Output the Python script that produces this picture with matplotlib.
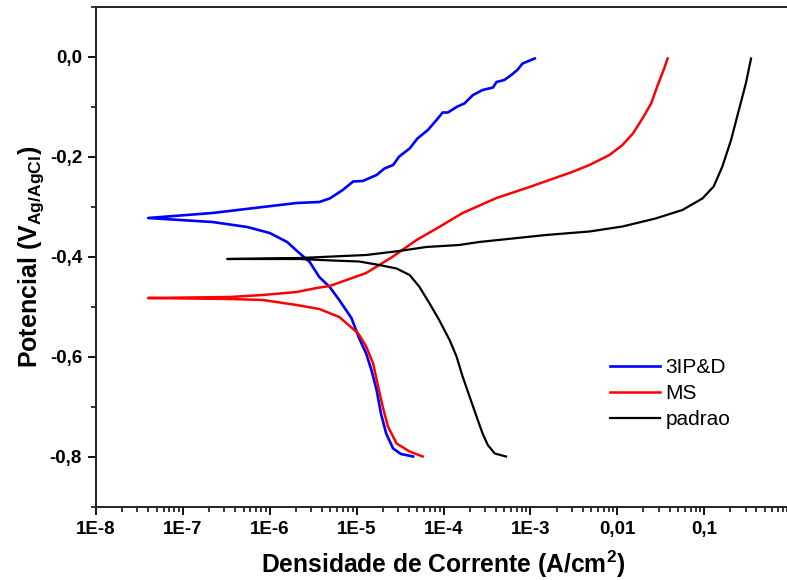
import matplotlib
matplotlib.use("Agg")
import matplotlib.pyplot as plt
from matplotlib.ticker import FixedLocator, LogLocator, NullFormatter, MultipleLocator
import numpy as np

plt.rcParams["font.family"] = ["Liberation Sans", "DejaVu Sans"]

# log10 of current density (A/cm2) and potential (V vs Ag/AgCl)
blue_an_logi = [-7.40, -6.66, -6.08, -5.69, -5.43, -5.31, -5.16, -5.04, -4.93, -4.77,
                -4.68, -4.58, -4.51, -4.39, -4.30, -4.18, -4.08, -4.01, -3.95, -3.84,
                -3.76, -3.66, -3.55, -3.43, -3.39, -3.30, -3.22, -3.15, -3.09, -2.95]
blue_an_e = [-0.322, -0.312, -0.300, -0.292, -0.290, -0.283, -0.266, -0.249, -0.248, -0.236,
             -0.223, -0.216, -0.199, -0.183, -0.163, -0.146, -0.126, -0.111, -0.111, -0.099,
             -0.093, -0.076, -0.066, -0.061, -0.050, -0.046, -0.036, -0.026, -0.013, -0.003]
blue_ca_logi = [-7.40, -6.66, -6.26, -6.00, -5.80, -5.66, -5.54, -5.43, -5.31, -5.20,
                -5.06, -4.97, -4.89, -4.83, -4.77, -4.72, -4.66, -4.58, -4.49, -4.35]
blue_ca_e = [-0.322, -0.330, -0.340, -0.352, -0.370, -0.392, -0.410, -0.440, -0.460, -0.486,
             -0.522, -0.563, -0.593, -0.626, -0.666, -0.713, -0.753, -0.783, -0.794, -0.799]

red_an_logi = [-7.40, -6.46, -6.08, -5.69, -5.46, -5.31, -4.89, -4.59, -4.31, -4.05,
               -3.78, -3.39, -3.01, -2.52, -2.32, -2.09, -1.94, -1.82, -1.71, -1.61,
               -1.54, -1.46, -1.42]
red_an_e = [-0.482, -0.480, -0.476, -0.470, -0.462, -0.458, -0.432, -0.400, -0.366, -0.340,
            -0.312, -0.282, -0.260, -0.230, -0.216, -0.196, -0.176, -0.153, -0.123, -0.093,
            -0.059, -0.023, -0.003]
red_ca_logi = [-7.40, -6.46, -6.08, -5.69, -5.43, -5.20, -5.00, -4.97, -4.89, -4.81,
               -4.76, -4.70, -4.64, -4.54, -4.39, -4.24]
red_ca_e = [-0.482, -0.484, -0.486, -0.496, -0.504, -0.520, -0.550, -0.556, -0.579, -0.613,
            -0.653, -0.699, -0.739, -0.773, -0.789, -0.799]

black_an_logi = [-6.49, -5.66, -4.89, -4.51, -4.20, -3.82, -3.59, -2.82, -2.32, -1.94,
                 -1.56, -1.25, -1.02, -0.89, -0.79, -0.69, -0.60, -0.52, -0.46]
black_an_e = [-0.404, -0.402, -0.396, -0.388, -0.380, -0.376, -0.370, -0.356, -0.349, -0.339,
              -0.323, -0.306, -0.283, -0.259, -0.219, -0.166, -0.106, -0.053, -0.003]
black_ca_logi = [-6.49, -5.66, -5.28, -4.97, -4.74, -4.54, -4.39, -4.28, -4.16, -4.05,
                 -3.93, -3.85, -3.78, -3.70, -3.62, -3.55, -3.49, -3.41, -3.28]
black_ca_e = [-0.404, -0.404, -0.407, -0.409, -0.416, -0.423, -0.436, -0.459, -0.493, -0.526,
              -0.566, -0.599, -0.639, -0.679, -0.719, -0.753, -0.776, -0.793, -0.799]

x_ticks = [1e-8, 1e-7, 1e-6, 1e-5, 1e-4, 1e-3, 1e-2, 1e-1, 1]
x_ticklabels = ["1E-8", "1E-7", "1E-6", "1E-5", "1E-4", "1E-3", "0,01", "0,1", "1"]
y_ticks = [0.0, -0.2, -0.4, -0.6, -0.8]
y_ticklabels = ["0,0", "-0,2", "-0,4", "-0,6", "-0,8"]

series = [
    ("3IP&D", "#0000FF", 1.9, blue_an_logi, blue_an_e, blue_ca_logi, blue_ca_e),
    ("MS", "#FF0000", 1.8, red_an_logi, red_an_e, red_ca_logi, red_ca_e),
    ("padrao", "#000000", 1.6, black_an_logi, black_an_e, black_ca_logi, black_ca_e),
]

fig = plt.figure(figsize=(7.87, 5.8), dpi=100)
ax = fig.add_axes([96 / 787, 73 / 580, 695 / 787, 500 / 580])

for name, color, lw, an_x, an_y, ca_x, ca_y in series:
    # one polyline: cathodic branch reversed, then anodic branch
    lx = list(reversed(ca_x)) + list(an_x)
    ly = list(reversed(ca_y)) + list(an_y)
    ax.plot(10 ** np.array(lx), ly, color=color, lw=lw, label=name,
            solid_joinstyle="round")

ax.set_xscale("log")
ax.set_xlim(1e-8, 1)
ax.set_ylim(-0.9, 0.1)

ax.xaxis.set_major_locator(FixedLocator(x_ticks))
ax.set_xticklabels(x_ticklabels)
ax.xaxis.set_minor_locator(LogLocator(base=10, subs=np.arange(2, 10), numticks=20))
ax.xaxis.set_minor_formatter(NullFormatter())
ax.set_yticks(y_ticks)
ax.set_yticklabels(y_ticklabels)
ax.yaxis.set_minor_locator(MultipleLocator(0.1))

ax.tick_params(which="major", direction="out", length=6, width=1.3, labelsize=13.5, pad=4)
ax.tick_params(which="minor", direction="out", length=3.5, width=1.1)
for lab in ax.get_xticklabels() + ax.get_yticklabels():
    lab.set_fontweight("bold")
for spine in ax.spines.values():
    spine.set_linewidth(1.4)
    spine.set_color("#222222")

ax.set_xlabel("Densidade de Corrente (A/cm$^\\mathregular{2}$)", fontsize=17.7,
              fontweight="bold", labelpad=8)
ax.set_ylabel("Potencial (V$_\\mathregular{Ag/AgCl}$)", fontsize=18,
              fontweight="bold", labelpad=3)

ax.legend(loc="upper left", bbox_to_anchor=(0.712, 0.335), frameon=False,
          fontsize=15, handlelength=2.4, handletextpad=0.28, labelspacing=0.33)

fig.savefig("out.png", dpi=100)
